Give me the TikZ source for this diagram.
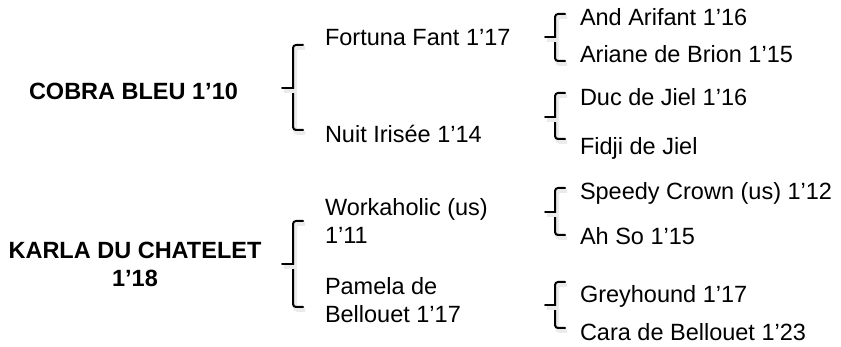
\documentclass[tikz,border=0pt]{standalone}
\usepackage{fontspec}
\setmainfont{Liberation Sans}
\begin{document}
\begin{tikzpicture}[x=1pt,y=-1pt,
  lbl/.style={inner sep=0pt, outer sep=0pt, font=\fontsize{23.5}{28}\selectfont},
  sire/.style={lbl, font=\fontsize{23.5}{27.5}\selectfont\bfseries},
  brk/.style={line width=2pt, rounded corners=3pt, line cap=round,
    preaction={draw=black!8, line width=4pt, transform canvas={shift={(2pt,-3pt)}}}}]
\useasboundingbox (0,0) rectangle (841,347);
% level 1
\node[sire, anchor=base west] (cobra) at (29,100) {COBRA BLEU 1’10};
\node[sire, anchor=north, align=center] (karla) at (135,242.2) {KARLA DU CHATELET\\1’18};
% level 2
\node[lbl, anchor=base west] (fortuna) at (325,46) {Fortuna Fant 1’17};
\node[lbl, anchor=base west] (nuit) at (325,143) {Nuit Irisée 1’14};
\node[lbl, anchor=north west, align=left] (work) at (325,198.2) {Workaholic (us)\\1’11};
\node[lbl, anchor=north west, align=left] (pamela) at (325,277.2) {Pamela de\\Bellouet 1’17};
% level 3
\node[lbl, anchor=base west] (and) at (580,26) {And Arifant 1’16};
\node[lbl, anchor=base west] (ariane) at (580,63) {Ariane de Brion 1’15};
\node[lbl, anchor=base west] (duc) at (580,106) {Duc de Jiel 1’16};
\node[lbl, anchor=base west] (fidji) at (580,155) {Fidji de Jiel};
\node[lbl, anchor=base west] (speedy) at (580,200) {Speedy Crown (us) 1’12};
\node[lbl, anchor=base west] (ahso) at (580,245) {Ah So 1’15};
\node[lbl, anchor=base west] (grey) at (580,303) {Greyhound 1’17};
\node[lbl, anchor=base west] (cara) at (580,341) {Cara de Bellouet 1’23};
% bracket anchor points
\coordinate (b1t) at (303,45);  \coordinate (b1b) at (303,130); \coordinate (b1m) at (282,88);
\coordinate (b2t) at (565,14);  \coordinate (b2b) at (565,61);  \coordinate (b2m) at (545,37);
\coordinate (b3t) at (565,93);  \coordinate (b3b) at (565,139); \coordinate (b3m) at (545,117);
\coordinate (b4t) at (303,221); \coordinate (b4b) at (303,307); \coordinate (b4m) at (282,264);
\coordinate (b5t) at (565,188); \coordinate (b5b) at (565,235); \coordinate (b5m) at (545,212);
\coordinate (b6t) at (565,282); \coordinate (b6b) at (565,328); \coordinate (b6m) at (545,305);
% brackets (x of the spine = hook end - 10)
\foreach \b/\sx in {b1/293,b2/555,b3/555,b4/293,b5/555,b6/555}{
  \draw[brk] (\b t) -- (\sx,0 |- \b t) -- (\sx,0 |- \b b) -- (\b b);
  \draw[brk] (\b m) -- (\sx,0 |- \b m);
}
\end{tikzpicture}
\end{document}
